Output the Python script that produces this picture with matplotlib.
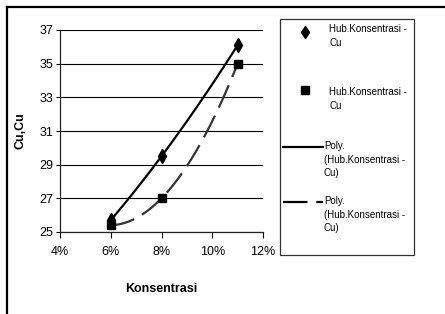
import numpy as np
import matplotlib
matplotlib.use("Agg")
import matplotlib.pyplot as plt
from matplotlib.lines import Line2D
from matplotlib.patches import Rectangle
from matplotlib.ticker import FuncFormatter

plt.rcParams['font.family'] = ['Liberation Sans Narrow', 'Liberation Sans', 'DejaVu Sans']

# data
konsentrasi = [0.06, 0.08, 0.11]
cu_1 = [25.7, 29.5, 36.1]
cu_2 = [25.4, 27.0, 35.0]
y_ticks = [25, 27, 29, 31, 33, 35, 37]
x_ticks = [0.04, 0.06, 0.08, 0.10, 0.12]
label_series = "Hub.Konsentrasi -\nCu"
label_trend = "Poly.\n(Hub.Konsentrasi -\nCu)"

W, H = 445, 314
fig = plt.figure(figsize=(W / 100, H / 100), dpi=100)


def fx(px):
    return px / W


def fy(py):
    return 1 - py / H


ax = fig.add_axes([fx(60), fy(232), fx(263) - fx(60), fy(30) - fy(232)])

# polynomial (order 2) trendlines, like the spreadsheet does
xs = np.linspace(konsentrasi[0], konsentrasi[-1], 100)
p1 = np.polyfit(konsentrasi, cu_1, 2)
p2 = np.polyfit(konsentrasi, cu_2, 2)
ax.plot(xs, np.polyval(p1, xs), color='black', lw=1.6, zorder=3)
ax.plot(xs, np.polyval(p2, xs), color='#333333', lw=1.6,
        linestyle=(0, (11, 4)), zorder=3)
ax.plot(konsentrasi, cu_1, linestyle='none', marker='d', ms=7,
        color='black', zorder=4)
ax.plot(konsentrasi, cu_2, linestyle='none', marker='s', ms=6,
        color='black', zorder=4)

ax.set_xlim(0.04, 0.12)
ax.set_ylim(25, 37)
ax.set_xticks(x_ticks)
ax.set_yticks(y_ticks)
ax.xaxis.set_major_formatter(FuncFormatter(lambda v, p: "{0:.0f}%".format(v * 100)))
ax.yaxis.grid(True, color='black', lw=0.8)
ax.set_axisbelow(True)
for s in ['top', 'right']:
    ax.spines[s].set_visible(False)
for s in ['left', 'bottom']:
    ax.spines[s].set_color('#222222')
    ax.spines[s].set_linewidth(0.9)
ax.tick_params(axis='x', direction='out', length=4, pad=6, labelsize=9)
ax.tick_params(axis='y', direction='out', length=3, pad=2, labelsize=9)

ax.set_xlabel('Konsentrasi', fontsize=9, fontweight='bold')
ax.set_ylabel('Cu,Cu', fontsize=9, fontweight='bold')
ax.xaxis.set_label_coords(0.5, -0.25)
ax.yaxis.set_label_coords(-0.165, 0.5)

# outer chart border (only left and top visible)
fig.add_artist(Line2D([fx(7), fx(7)], [fy(7), -0.1], color='black', lw=1.6))
fig.add_artist(Line2D([fx(7), 1.1], [fy(7), fy(7)], color='black', lw=1.6))

# legend box
fig.add_artist(Rectangle((fx(280), fy(255)), fx(414) - fx(280), fy(19) - fy(255),
                         fill=False, edgecolor='#333333', lw=0.9))
fig.add_artist(Line2D([fx(305)], [fy(32)], marker='d', ms=6.5, color='black'))
fig.add_artist(Line2D([fx(305)], [fy(90)], marker='s', ms=5.5, color='black'))
fig.add_artist(Line2D([fx(283), fx(323)], [fy(147), fy(147)], color='black', lw=1.6))
fig.add_artist(Line2D([fx(283), fx(323)], [fy(202), fy(202)], color='black', lw=1.6,
                      linestyle=(0, (11, 4))))
legend_text = [(329, 24, label_series), (329, 87, label_series),
               (324, 141, label_trend), (324, 196, label_trend)]
for px, py, t in legend_text:
    fig.text(fx(px), fy(py), t, ha='left', va='top', fontsize=7, linespacing=1.45)

fig.savefig('out.png', dpi=100)
